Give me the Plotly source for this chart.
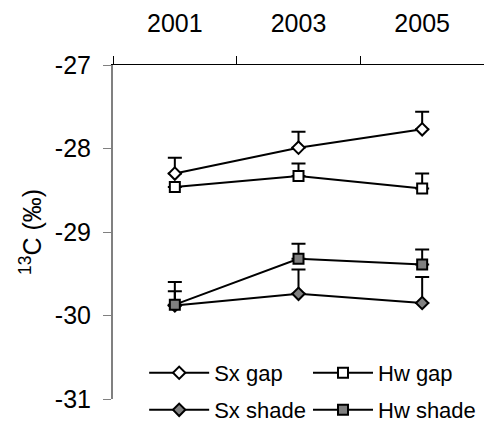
import plotly.graph_objects as go

years = ["2001", "2003", "2005"]
sx_gap = [-28.30, -27.99, -27.77]
sx_gap_err = [0.19, 0.19, 0.21]
hw_gap = [-28.46, -28.33, -28.48]
hw_gap_err = [0.0, 0.15, 0.18]
sx_shade = [-29.88, -29.74, -29.85]
sx_shade_err = [0.28, 0.29, 0.31]
hw_shade = [-29.87, -29.32, -29.39]
hw_shade_err = [0.16, 0.18, 0.18]
y_ticks = [-31, -30, -29, -28, -27]
y_ticktext = ["-31", "-30", "-29", "-28", "-27"]

series = [
    ("Sx gap", sx_gap, sx_gap_err, "diamond", "white", 9.5, "legend"),
    ("Hw gap", hw_gap, hw_gap_err, "square", "white", 10, "legend2"),
    ("Sx shade", sx_shade, sx_shade_err, "diamond", "#808080", 9.5, "legend3"),
    ("Hw shade", hw_shade, hw_shade_err, "square", "#808080", 10, "legend4"),
]

fig = go.Figure()
for name, vals, err, sym, fill, size, leg in series:
    fig.add_trace(go.Scatter(
        x=years, y=vals, name=name, mode="lines+markers", legend=leg,
        line=dict(color="black", width=2),
        marker=dict(symbol=sym, size=size, color=fill,
                    line=dict(color="black", width=2)),
        error_y=dict(type="data", array=err, symmetric=False,
                     arrayminus=[0] * len(err), color="black",
                     thickness=2, width=7),
    ))

font = "Liberation Sans, Arial, sans-serif"
leg_common = dict(orientation="h", xanchor="left", yanchor="middle",
                  font=dict(size=22), itemwidth=60,
                  bgcolor="rgba(0,0,0,0)")
fig.update_layout(
    width=484, height=423,
    margin=dict(l=113, r=0, t=65, b=24, autoexpand=False),
    paper_bgcolor="white", plot_bgcolor="white",
    font=dict(family=font, color="black", size=22),
    showlegend=True,
    legend=dict(x=0.084, y=0.078, **leg_common),
    legend2=dict(x=0.5256, y=0.078, **leg_common),
    legend3=dict(x=0.084, y=-0.033, **leg_common),
    legend4=dict(x=0.5256, y=-0.033, **leg_common),
    xaxis=dict(side="top", type="category", range=[-0.5, 2.5],
               showline=True, linecolor="black", linewidth=1,
               ticks="outside", ticklen=8, tickcolor="black",
               tickson="boundaries", showgrid=False, zeroline=False,
               tickfont=dict(size=25), ticklabelstandoff=22),
    yaxis=dict(range=[-31, -27], tickvals=y_ticks, ticktext=y_ticktext,
               showline=True, linecolor="#808080", linewidth=2,
               ticks="outside", ticklen=8, tickcolor="#808080",
               showgrid=False, zeroline=False,
               tickfont=dict(size=25), ticklabelstandoff=7,
               title=dict(text="<sup>13</sup>C (‰)", font=dict(size=25), standoff=6)),
)
fig.write_html("out.html")
